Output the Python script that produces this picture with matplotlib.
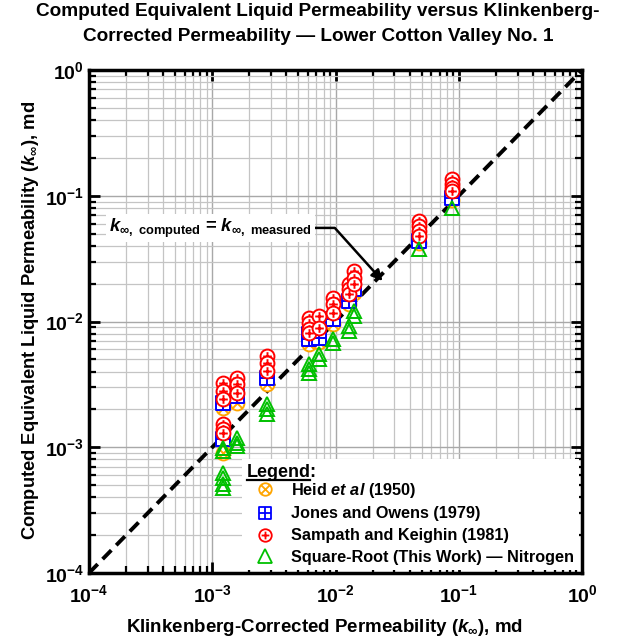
import numpy as np
import matplotlib
matplotlib.use("Agg")
import matplotlib.pyplot as plt
from matplotlib.path import Path
from matplotlib.lines import Line2D
from matplotlib.ticker import FuncFormatter, LogLocator

plt.rcParams['font.family'] = ['Liberation Sans', 'DejaVu Sans']
plt.rcParams['font.weight'] = 'bold'
plt.rcParams['mathtext.fontset'] = 'custom'
plt.rcParams['mathtext.rm'] = 'Liberation Sans:bold'
plt.rcParams['mathtext.bf'] = 'Liberation Sans:bold'
plt.rcParams['mathtext.it'] = 'Liberation Sans:italic:bold'
plt.rcParams['mathtext.sf'] = 'Liberation Sans:bold'
plt.rcParams['mathtext.fallback'] = 'stixsans'

# ---------------- data ----------------
heid_x = [1.23e-3, 1.23e-3, 1.6e-3, 2.8e-3, 6.15e-3, 7.3e-3, 9.6e-3, 1.28e-2, 1.40e-2, 4.73e-2, 8.77e-2]
heid_y = [2.05e-3, 9.0e-4, 2.25e-3, 3.2e-3, 6.6e-3, 6.9e-3, 9.6e-3, 1.38e-2, 1.7e-2, 4.2e-2, 9.2e-2]

jones_x = [1.23e-3, 1.23e-3, 1.6e-3, 2.8e-3, 6.15e-3, 6.15e-3, 7.3e-3, 9.6e-3, 1.28e-2, 1.40e-2, 4.73e-2, 8.77e-2]
jones_y = [2.25e-3, 1.16e-3, 2.56e-3, 3.56e-3, 8.0e-3, 7.3e-3, 7.4e-3, 1.05e-2, 1.46e-2, 1.81e-2, 4.37e-2, 9.6e-2]

samp_x = [1.23e-3, 1.23e-3, 1.23e-3,
          1.23e-3, 1.23e-3, 1.23e-3,
          1.6e-3, 1.6e-3, 1.6e-3,
          2.8e-3, 2.8e-3, 2.8e-3,
          6.15e-3, 6.15e-3, 6.15e-3, 6.15e-3,
          7.3e-3, 7.3e-3,
          9.6e-3, 9.6e-3, 9.6e-3,
          1.28e-2, 1.28e-2, 1.28e-2,
          1.40e-2, 1.40e-2, 1.40e-2,
          4.73e-2, 4.73e-2, 4.73e-2, 4.73e-2,
          8.77e-2, 8.77e-2, 8.77e-2, 8.77e-2]
samp_y = [3.24e-3, 2.8e-3, 2.42e-3,
          1.53e-3, 1.40e-3, 1.30e-3,
          3.56e-3, 3.18e-3, 2.70e-3,
          5.32e-3, 4.68e-3, 4.04e-3,
          1.066e-2, 9.73e-3, 8.71e-3, 8.1e-3,
          1.11e-2, 8.88e-3,
          1.54e-2, 1.38e-2, 1.17e-2,
          1.99e-2, 1.81e-2, 1.66e-2,
          2.52e-2, 2.22e-2, 1.99e-2,
          6.3e-2, 5.74e-2, 5.25e-2, 4.79e-2,
          0.136, 0.124, 0.115, 0.109]

sqrt_x = [1.23e-3, 1.23e-3, 1.23e-3, 1.23e-3, 1.23e-3, 1.23e-3,
          1.6e-3, 1.6e-3, 1.6e-3,
          2.8e-3, 2.8e-3, 2.8e-3,
          6.15e-3, 6.15e-3, 6.15e-3,
          7.3e-3, 7.3e-3,
          9.6e-3, 9.6e-3,
          1.28e-2, 1.28e-2,
          1.40e-2, 1.40e-2,
          4.73e-2,
          8.77e-2]
sqrt_y = [9.9e-4, 9.3e-4, 6.24e-4, 5.69e-4, 5.1e-4, 4.7e-4,
          1.18e-3, 1.08e-3, 1.02e-3,
          2.21e-3, 2.01e-3, 1.84e-3,
          4.59e-3, 4.19e-3, 3.89e-3,
          5.52e-3, 5.03e-3,
          7.26e-3, 6.75e-3,
          9.2e-3, 8.4e-3,
          1.21e-2, 1.11e-2,
          3.77e-2,
          8.0e-2]

line_x = [1e-4, 1.0]

legend_labels = [r"Heid $et\ al$ (1950)", "Jones and Owens (1979)",
                 "Sampath and Keighin (1981)", "Square-Root (This Work) \u2014 Nitrogen"]

# ---------------- markers ----------------
def compound(base, segs):
    verts = list(base.vertices)
    codes = list(base.codes) if base.codes is not None else [Path.MOVETO] + [Path.LINETO] * (len(base.vertices) - 1)
    for a, b in segs:
        verts += [a, b]
        codes += [Path.MOVETO, Path.LINETO]
    return Path(verts, codes)

circle = Path.unit_circle()
square = Path([(-1, -1), (1, -1), (1, 1), (-1, 1), (-1, -1)],
              [Path.MOVETO, Path.LINETO, Path.LINETO, Path.LINETO, Path.CLOSEPOLY])
c = 0.62
oplus = compound(circle, [((-c, 0), (c, 0)), ((0, -c), (0, c))])
d = 0.707
otimes = compound(circle, [((-d, -d), (d, d)), ((-d, d), (d, -d))])
boxplus = compound(square, [((-1, 0), (1, 0)), ((0, -1), (0, 1))])

orange = '#FFA500'
blue = '#0000FF'
red = '#FF0000'
green = '#00C000'

fig = plt.figure(figsize=(6.3, 6.42), dpi=100)
ax = fig.add_axes([89 / 630, 1 - 573 / 642, 493 / 630, 503 / 642])
ax.set_xscale('log')
ax.set_yscale('log')
ax.set_xlim(1e-4, 1)
ax.set_ylim(1e-4, 1)

ms = 10
mew = 1.4
ax.plot(line_x, line_x, color='k', lw=2.8, ls=(0, (3.2, 1.8)), zorder=2)
for i in range(len(heid_x)):
    ax.plot(heid_x[i], heid_y[i], marker=otimes, ms=ms, mfc='white', mec=orange, mew=mew, ls='none', zorder=3)
for i in range(len(jones_x)):
    ax.plot(jones_x[i], jones_y[i], marker=boxplus, ms=ms * 0.95, mfc='white', mec=blue, mew=mew, ls='none', zorder=4)
for i in range(len(samp_x)):
    ax.plot(samp_x[i], samp_y[i], marker=oplus, ms=ms, mfc='white', mec=red, mew=mew, ls='none', zorder=5)
for i in range(len(sqrt_x)):
    ax.plot(sqrt_x[i], sqrt_y[i], marker='^', ms=ms * 1.05, mfc='none', mec=green, mew=mew, ls='none', zorder=6)

# axes styling
ax.set_axisbelow(True)
ax.grid(which='major', color='#a8a8a8', lw=1.0)
ax.grid(which='minor', color='#c4c4c4', lw=0.9)
ax.xaxis.set_major_locator(LogLocator(base=10, numticks=10))
ax.yaxis.set_major_locator(LogLocator(base=10, numticks=10))
ax.xaxis.set_minor_locator(LogLocator(base=10, subs=np.arange(2, 10), numticks=20))
ax.yaxis.set_minor_locator(LogLocator(base=10, subs=np.arange(2, 10), numticks=20))
fmt = FuncFormatter(lambda v, p: r'$\mathbf{10^{%d}}$' % int(round(np.log10(v))))
ax.xaxis.set_major_formatter(fmt)
ax.yaxis.set_major_formatter(fmt)
ax.tick_params(which='both', direction='in', top=True, right=True, labelsize=14)
ax.tick_params(which='major', length=8, width=2)
ax.tick_params(which='minor', length=5, width=1.6)
ax.tick_params(axis='x', pad=8)
for s in ax.spines.values():
    s.set_linewidth(2.5)

ax.set_xlabel(r"Klinkenberg-Corrected Permeability ($k_\infty$), md", fontsize=13.5, fontweight='bold')
ax.set_ylabel(r"Computed Equivalent Liquid Permeability ($k_\infty$), md", fontsize=13.2, fontweight='bold')
ax.xaxis.set_label_coords((325 - 89) / 493, (573 - 617) / 503)
ax.yaxis.set_label_coords((41 - 89) / 493, (573 - 320) / 503)

fig.text(0.505, 0.995, "Computed Equivalent Liquid Permeability versus Klinkenberg-\nCorrected Permeability \u2014 Lower Cotton Valley No. 1",
         ha='center', va='top', fontsize=13.7, fontweight='bold', linespacing=1.6)

# annotation
ann_label = r"$k_{\infty\mathbf{,\ computed}}$ = $k_{\infty\mathbf{,\ measured}}$"
ax.annotate(ann_label, xy=(0.0241, 0.021), xytext=(1.45e-4, 0.0555), ha='left', va='center',
            fontsize=13.2, fontweight='bold',
            bbox=dict(fc='white', ec='none', pad=2),
            arrowprops=dict(arrowstyle='-|>', connectionstyle='angle,angleA=0,angleB=132,rad=0',
                            lw=1.8, color='k', mutation_scale=16, shrinkA=0, shrinkB=0),
            zorder=7)

# legend
handles = [
    Line2D([], [], marker=otimes, ms=9, mfc='white', mec=orange, mew=1.3, ls='none'),
    Line2D([], [], marker=boxplus, ms=8.5, mfc='white', mec=blue, mew=1.3, ls='none'),
    Line2D([], [], marker=oplus, ms=9, mfc='white', mec=red, mew=1.3, ls='none'),
    Line2D([], [], marker='^', ms=9.5, mfc='white', mec=green, mew=1.3, ls='none'),
]
leg = ax.legend(handles, legend_labels, title="Legend:", loc='lower left',
                bbox_to_anchor=(0.31, 0.006), frameon=True, framealpha=1, edgecolor='none',
                facecolor='white', fancybox=False, fontsize=11.7, title_fontsize=13,
                alignment='left', handletextpad=0.55, labelspacing=0.42, borderpad=0.3,
                handlelength=2.2, borderaxespad=0)
leg.get_title().set_fontweight('bold')
for t in leg.get_texts():
    t.set_fontweight('bold')
leg._legend_box.sep = 0
leg.set_zorder(8)

fig.canvas.draw()
bb = leg.get_title().get_window_extent().transformed(fig.transFigure.inverted())
ux0 = bb.x0
ux1 = bb.x0 + (bb.x1 - bb.x0) * 0.9
fig.add_artist(Line2D([ux0, ux1], [bb.y0 + 0.001, bb.y0 + 0.001], color='k', lw=1.6, transform=fig.transFigure, zorder=20))

fig.savefig("out.png", dpi=100)
